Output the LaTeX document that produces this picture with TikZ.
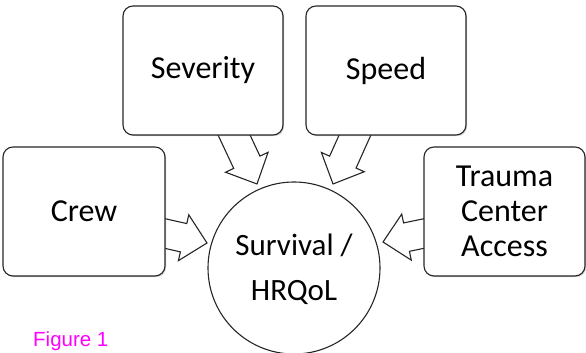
\documentclass[tikz,border=0pt]{standalone}
\usepackage{fontspec}
\setmainfont{Carlito}
\newfontfamily\figfont{Liberation Sans}
\usetikzlibrary{shadows}
\definecolor{figmag}{RGB}{255,0,255}
\tikzset{
  boxline/.style={draw=black!85, line width=1.1pt, fill=white, rounded corners=10pt,
    drop shadow={shadow xshift=1.2pt, shadow yshift=-1.2pt, opacity=0.35}},
  boxtext/.style={font=\fontsize{32}{35}\selectfont, align=center, inner sep=0pt},
  arrowline/.style={draw=black!85, line width=1.1pt, fill=white, line join=miter},
  barrow/.pic={\draw[arrowline] (-70,-14.5) -- (-24,-14.5) -- (-24,-23.5) -- (0,0)
      -- (-24,23.5) -- (-24,14.5) -- (-70,14.5) -- cycle;}
}
\begin{document}
\begin{tikzpicture}[x=1pt,y=1pt]
\useasboundingbox (0,0) rectangle (586,353);
% arrow tips
\coordinate (sevtip) at (257,169);
\coordinate (spdtip) at (333,169);
\coordinate (crwtip) at (207,110);
\coordinate (tratip) at (383,111);
% block arrows
\pic[rotate=-64.9] at (sevtip) {barrow};
\pic[rotate=-114.2] at (spdtip) {barrow};
\pic[rotate=-12.7] at (crwtip) {barrow};
\pic[rotate=-168.3] at (tratip) {barrow};
% boxes
\node[boxline, minimum width=162pt, minimum height=129pt] (crew) at (84,141.5) {};
\node[boxtext] (crewt) at (crew.center) {Crew};
\node[boxline, minimum width=160pt, minimum height=129pt] (sev) at (203,282.5) {};
\node[boxtext] (sevt) at (sev.center) {Severity};
\node[boxline, minimum width=160pt, minimum height=129pt] (spd) at (386,282.5) {};
\node[boxtext] (spdt) at (spd.center) {Speed};
\node[boxline, minimum width=161pt, minimum height=129pt] (tra) at (504.5,141.5) {};
\node[boxtext] (trat) at (tra.center) {Trauma\\Center\\Access};
% circle
\node[draw=black!85, line width=1.1pt, fill=white, circle, minimum size=172pt, inner sep=0pt] (surv) at (294,85) {};
\node[font=\fontsize{31}{45}\selectfont, align=center, inner sep=0pt] (survt) at (294,84) {Survival /\\HRQoL};
% caption
\node[anchor=base west, inner sep=0pt, text=figmag, font=\figfont\fontsize{20.5}{23}\selectfont] (cap) at (33,6) {Figure 1};
\end{tikzpicture}
\end{document}
